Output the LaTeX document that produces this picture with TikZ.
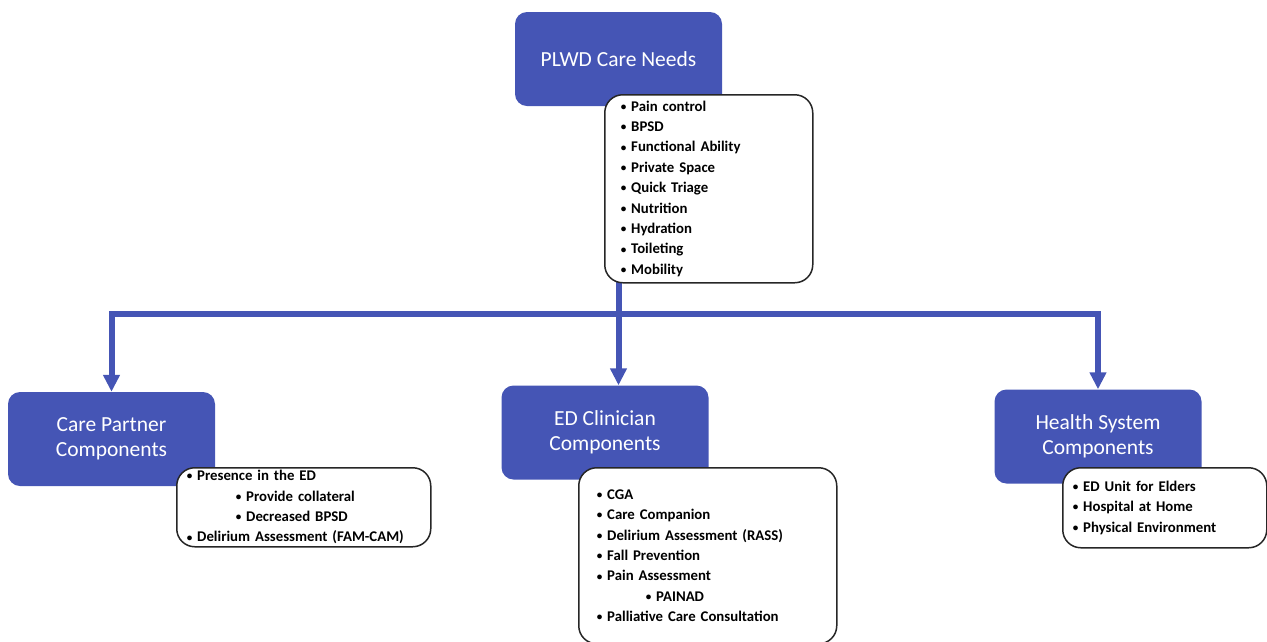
\documentclass[tikz,border=0pt]{standalone}
\usepackage{fontspec}
\setmainfont{Carlito}
\usetikzlibrary{arrows.meta}

\definecolor{plwdblue}{RGB}{69,85,181}
\newcommand{\itm}{\raisebox{0.12ex}{\scalebox{0.75}{\textbullet}}\ }

\begin{document}
\begin{tikzpicture}[x=1pt,y=-1pt,>={Triangle[length=17pt,width=16pt]},
  headbox/.style={rectangle,rounded corners=12pt,fill=plwdblue,text=white,
    font=\fontsize{21.5}{25}\selectfont,align=center,inner sep=0pt,
    minimum width=207pt,minimum height=94pt},
  listbox/.style={rectangle,rounded corners=18pt,draw=black!85,line width=1.5pt,
    fill=white,font=\bfseries\fontsize{14.8}{20.4}\selectfont,align=left,
    anchor=north west,inner ysep=0pt},
  flow/.style={draw=plwdblue,line width=6pt}]

\useasboundingbox (0,0) rectangle (1267,641);

% heading boxes
\node[headbox] (plwd) at (618.5,59) {PLWD Care Needs};
\node[headbox] (cp) at (111.5,439) {Care Partner\\Components};
\node[headbox] (ed) at (605,432.5) {ED Clinician\\Components};
\node[headbox] (hs) at (1098,436.5) {Health System\\Components};

% connectors
\coordinate (bar) at (0,314);
\draw[flow,->] (plwd.south) -- (plwd.south |- ed.north);
\draw[flow,->] (plwd.south |- bar) -| (cp.north);
\draw[flow,->] (plwd.south |- bar) -| (hs.north);

% item lists
\node[listbox,inner xsep=16pt,text width=176pt,minimum width=208pt,minimum height=188pt]
  (needs) at (604,94) {\itm Pain control\\
  \itm BPSD\\
  \itm Functional Ability\\
  \itm Private Space\\
  \itm Quick Triage\\
  \itm Nutrition\\
  \itm Hydration\\
  \itm Toileting\\
  \itm Mobility};

\node[listbox,inner xsep=10pt,text width=234pt,minimum width=254pt,minimum height=79pt]
  (cplist) at (176,467) {\itm Presence in the ED\\
  \hspace*{49pt}\itm Provide collateral\\
  \hspace*{49pt}\itm Decreased BPSD\\
  \itm Delirium Assessment (FAM-CAM)};

\node[listbox,inner xsep=18pt,text width=222pt,minimum width=258pt,minimum height=176pt]
  (edlist) at (578,467) {\itm CGA\\
  \itm Care Companion\\
  \itm Delirium Assessment (RASS)\\
  \itm Fall Prevention\\
  \itm Pain Assessment\\
  \hspace*{49pt}\itm PAINAD\\
  \itm Palliative Care Consultation};

\node[listbox,inner xsep=10pt,text width=184pt,minimum width=204pt,minimum height=80pt]
  (hslist) at (1062,467) {\itm ED Unit for Elders\\
  \itm Hospital at Home\\
  \itm Physical Environment};

\end{tikzpicture}
\end{document}
